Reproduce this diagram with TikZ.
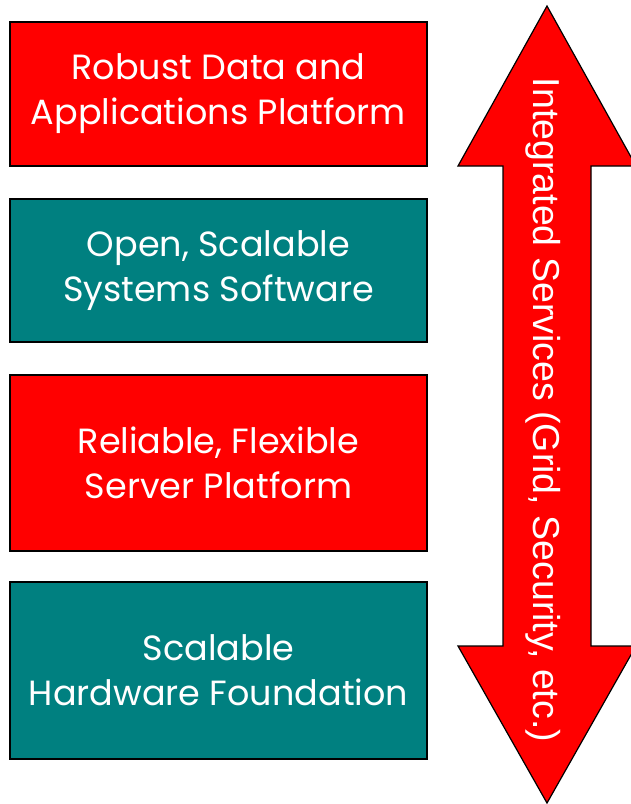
\documentclass[tikz,border=0pt]{standalone}
\usepackage{fontspec}
\setmainfont{Poppins}
\newfontfamily\arrowfont{Liberation Sans}
\usetikzlibrary{positioning}
\usetikzlibrary{calc}

\definecolor{boxred}{RGB}{255,0,0}
\definecolor{boxteal}{RGB}{0,128,128}

\tikzset{
  layer/.style={draw=black, line width=1.5pt, text=white, align=center, inner sep=0pt,
    minimum width=417pt, font=\fontsize{35}{45}\selectfont},
  redlayer/.style={layer, fill=boxred},
  teallayer/.style={layer, fill=boxteal}
}

\begin{document}
\begin{tikzpicture}[x=1pt, y=-1pt]
\useasboundingbox (0, 0) rectangle (630, 804);

% stacked layers
\node[redlayer, minimum height=144pt] (data) at (218.5, 94) {Robust Data and\\Applications Platform};
\node[teallayer, minimum height=143pt] (systems) at (218.5, 270.5) {Open, Scalable\\Systems Software};
\node[redlayer, minimum height=176pt] (server) at (218.5, 463) {Reliable, Flexible\\Server Platform};
\node[teallayer, minimum height=177pt] (hardware) at (218.5, 670.5) {Scalable\\Hardware Foundation};

% double arrow
\coordinate (top) at (547, 6);
\coordinate (bottom) at (547, 803);
\draw[line width=1.2pt, fill=boxred, line join=miter]
  (top) -- ([shift={(89, 160)}]top) -- ([shift={(44, 160)}]top) -- ([shift={(44, -157)}]bottom)
  -- ([shift={(89, -157)}]bottom) -- (bottom) -- ([shift={(-89, -157)}]bottom) -- ([shift={(-44, -157)}]bottom)
  -- ([shift={(-44, 160)}]top) -- ([shift={(-89, 160)}]top) -- cycle;
\node[rotate=-90, text=white, font=\arrowfont\fontsize{37.5}{40}\selectfont] (services) at (543, 410)
  {Integrated Services (Grid, Security, etc.)};
\end{tikzpicture}
\end{document}
